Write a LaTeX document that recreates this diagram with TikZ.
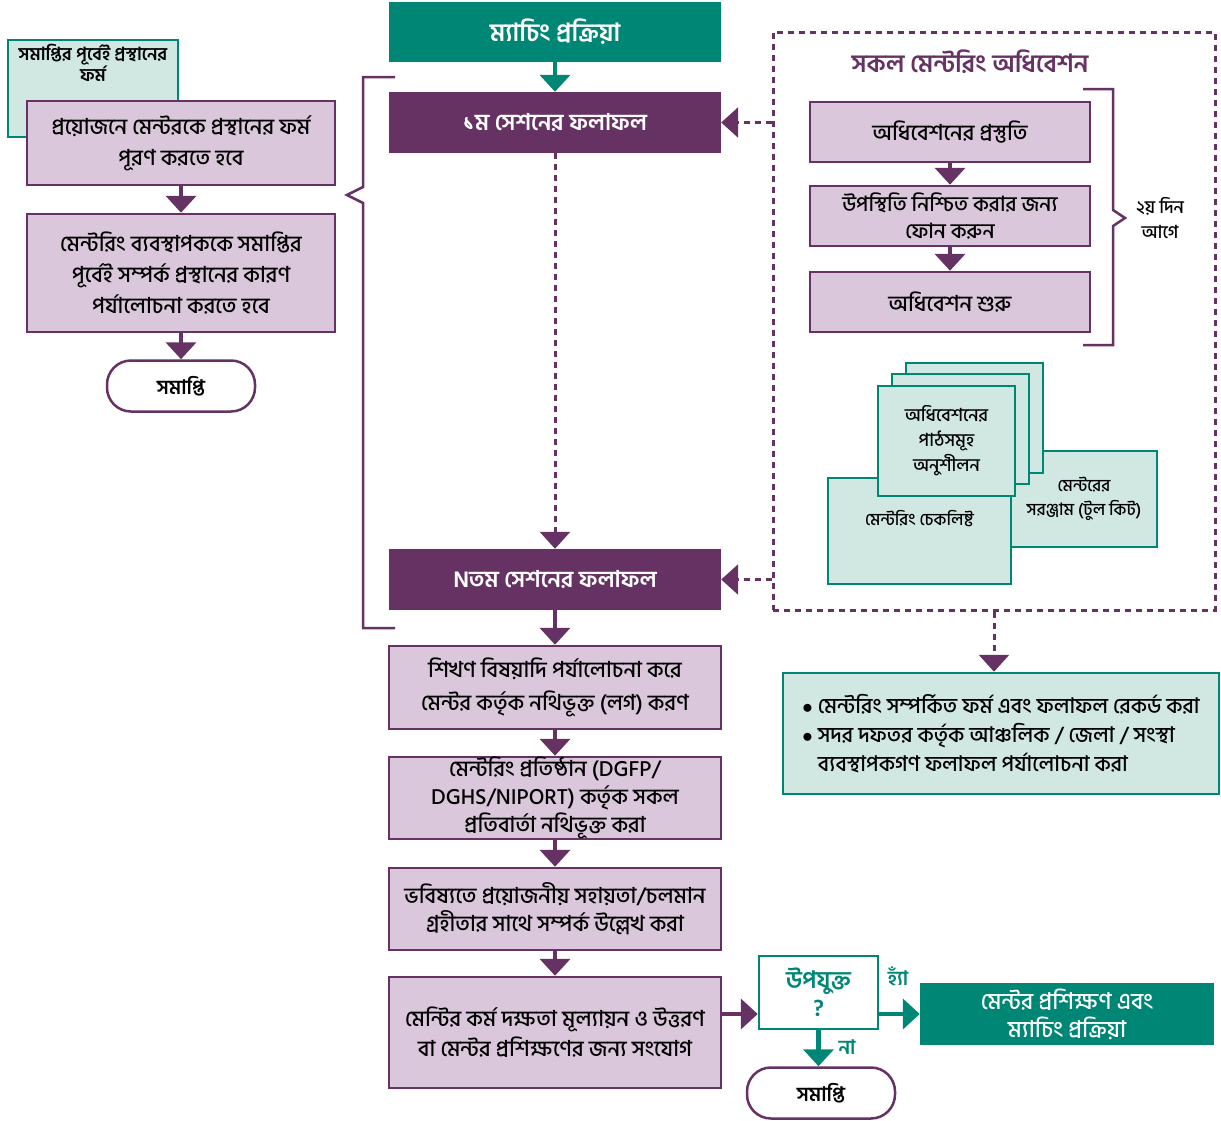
\documentclass[tikz,border=0pt]{standalone}
\usepackage{fontspec}
\newfontfamily\bn[Script=Bengali, UprightFont={* Medium}, BoldFont={* SemiBold}]{Hind Siliguri}
\usetikzlibrary{arrows.meta}
\definecolor{mteal}{RGB}{0,134,117}
\definecolor{lteal}{RGB}{208,231,226}
\definecolor{mpurple}{RGB}{102,50,99}
\definecolor{lpurple}{RGB}{219,199,219}

\begin{document}
\begin{tikzpicture}[x=1pt,y=-1pt,
	every node/.style={font=\bn\fontsize{22}{31}\selectfont, align=center, inner sep=0pt},
	lbox/.style={draw=mpurple, line width=2.5pt, fill=lpurple},
	dbox/.style={fill=mpurple, text=white, minimum width=332pt, minimum height=61pt, font=\bn\bfseries\fontsize{23}{28}\selectfont},
	tbox/.style={fill=mteal, text=white},
	gbox/.style={draw=mteal, line width=2.5pt, fill=lteal},
	endbox/.style={draw=mpurple, line width=2.5pt, fill=white, rounded corners=24pt, minimum width=148pt, minimum height=51pt, font=\bn\bfseries\fontsize{20}{24}\selectfont},
	arr/.style={mpurple, line width=4.5pt, -{Triangle[width=30pt,length=17pt]}},
	tarr/.style={arr, mteal},
	darr/.style={mpurple, line width=3pt, dash pattern=on 6pt off 5pt, -{Triangle[width=30pt,length=17pt]}},
	]
		\fill[white] (0,0) rectangle (1221,1120);
		\useasboundingbox (0,0) rectangle (1221,1120);
		\node[gbox, minimum width=170pt, minimum height=97pt] (exitform) at (93,88.5) {};
		\node[font=\bn\bfseries\fontsize{18}{21}\selectfont] (exitlbl) at ([yshift=-24pt]exitform.north) {সমাপ্তির পূর্বেই প্রস্থানের\\ফর্ম};
		\node[lbox, minimum width=308pt, minimum height=84pt] (needform) at (181,143) {প্রয়োজনে মেন্টরকে প্রস্থানের ফর্ম\\পূরণ করতে হবে};
		\node[lbox, minimum width=308pt, minimum height=118pt] (review) at (181,273) {মেন্টরিং ব্যবস্থাপককে সমাপ্তির\\পূর্বেই সম্পর্ক প্রস্থানের কারণ\\পর্যালোচনা করতে হবে};
		\node[endbox] (end1) at (181,386) {সমাপ্তি};
		\draw[arr] (needform) -- (review);
		\draw[arr] (review) -- (end1);
		\draw[mpurple, line width=2.5pt] (395,77) -- (363,77) -- (363,187) -- (347,195) -- (363,203) -- (363,628) -- (395,628);

		\node[tbox, minimum width=332pt, minimum height=60pt, font=\bn\bfseries\fontsize{25}{28}\selectfont] (match) at (555,32) {ম্যাচিং প্রক্রিয়া};
		\node[dbox] (s1) at (555,122.5) {১ম সেশনের ফলাফল};
		\node[dbox] (sN) at (555,579.5) {Nতম সেশনের ফলাফল};
		\node[lbox, minimum width=332pt, minimum height=83pt, font=\bn\fontsize{22}{33}\selectfont] (log) at (555,687.5) {শিখণ বিষয়াদি পর্যালোচনা করে\\মেন্টর কর্তৃক নথিভূক্ত (লগ) করণ};
		\node[lbox, minimum width=332pt, minimum height=82pt, font=\bn\fontsize{22}{28}\selectfont] (inst) at (555,798) {মেন্টরিং প্রতিষ্ঠান (DGFP/\\DGHS/NIPORT) কর্তৃক সকল\\প্রতিবার্তা নথিভূক্ত করা};
		\node[lbox, minimum width=332pt, minimum height=82pt, font=\bn\fontsize{22}{28}\selectfont] (future) at (555,909) {ভবিষ্যতে প্রয়োজনীয় সহায়তা/চলমান\\গ্রহীতার সাথে সম্পর্ক উল্লেখ করা};
		\node[lbox, minimum width=332pt, minimum height=111pt, font=\bn\fontsize{22}{30}\selectfont] (eval) at (555,1032.5) {মেন্টির কর্ম দক্ষতা মূল্যায়ন ও উত্তরণ\\বা মেন্টর প্রশিক্ষণের জন্য সংযোগ};
		\draw[tarr] (match) -- (s1);
		\draw[darr] (s1) -- (sN);
		\draw[arr] (sN) -- (log);
		\draw[arr] (log) -- (inst);
		\draw[arr] (inst) -- (future);
		\draw[arr] (future) -- (eval);

		\node[draw=mteal, line width=2.5pt, fill=white, text=mteal, minimum width=119pt, minimum height=73pt, font=\bn\bfseries\fontsize{24}{28}\selectfont] (fit) at (818.5,992.5) {উপযুক্ত\\?};
		\node[tbox, minimum width=294pt, minimum height=62pt, font=\bn\fontsize{23}{28}\selectfont] (train) at (1067,1014) {মেন্টর প্রশিক্ষণ এবং\\ম্যাচিং প্রক্রিয়া};
		\node[endbox] (end2) at (821,1093) {সমাপ্তি};
		\draw[arr] (eval.east |- train) -- (fit.west |- train);
		\draw[tarr] (fit.east |- train) -- (train);
		\draw[tarr] (fit.south) -- (fit.south |- end2.north);
		\node[text=mteal, font=\bn\bfseries\fontsize{20}{24}\selectfont] (yes) at (898,976) {হ্যাঁ};
		\node[text=mteal, font=\bn\bfseries\fontsize{20}{24}\selectfont] (no) at (847,1047) {না};

		\node[draw=mpurple, line width=3pt, dash pattern=on 6pt off 5pt, minimum width=442pt, minimum height=578pt] (allbox) at (994,321) {};
		\node[text=mpurple, font=\bn\bfseries\fontsize{25}{28}\selectfont] (alltitle) at (970,62) {সকল মেন্টরিং অধিবেশন};
		\node[lbox, minimum width=280pt, minimum height=60pt] (prep) at (950,132) {অধিবেশনের প্রস্তুতি};
		\node[lbox, minimum width=280pt, minimum height=60pt, font=\bn\fontsize{21}{27}\selectfont] (phone) at (950,216) {উপস্থিতি নিশ্চিত করার জন্য\\ফোন  করুন};
		\node[lbox, minimum width=280pt, minimum height=60pt] (start) at (950,302) {অধিবেশন শুরু};
		\draw[arr] (prep) -- (phone);
		\draw[arr] (phone) -- (start);
		\draw[mpurple, line width=2.5pt] (1083,89) -- (1113,89) -- (1113,210) -- (1125,218) -- (1113,226) -- (1113,345) -- (1083,345);
		\node[font=\bn\fontsize{18}{25}\selectfont] (before) at (1160,218) {২য় দিন\\আগে};

		\node[gbox, minimum width=146pt, minimum height=96pt, font=\bn\fontsize{17}{24}\selectfont] (toolkit) at (1084,499) {মেন্টরের\\সরঞ্জাম (টুল কিট)};
		\node[gbox, minimum width=183pt, minimum height=106pt] (check) at (919.5,531) {};
		\node[font=\bn\fontsize{17}{24}\selectfont] (checklbl) at ([yshift=12pt]check.center) {মেন্টরিং চেকলিষ্ট};
		\foreach \dx/\dy in {28/23,14/12}
			\node[gbox, minimum width=137pt, minimum height=110pt] at (946.5+\dx,441-\dy) {};
		\node[gbox, minimum width=137pt, minimum height=110pt, font=\bn\fontsize{18}{25}\selectfont] (lessons) at (946.5,441) {অধিবেশনের\\পাঠসমূহ\\অনুশীলন};

		\node[gbox, minimum width=436pt, minimum height=121pt, align=left, font=\bn\fontsize{21.5}{29}\selectfont] (notes) at (1001,733.5) {$\bullet$ মেন্টরিং সম্পর্কিত  ফর্ম এবং ফলাফল রেকর্ড করা\\$\bullet$ সদর দফতর  কর্তৃক  আঞ্চলিক / জেলা / সংস্থা\\\hphantom{$\bullet$ }ব্যবস্থাপকগণ ফলাফল পর্যালোচনা করা};
		\draw[darr] (allbox.west |- s1) -- (s1);
		\draw[darr] (allbox.west |- sN) -- (sN);
		\draw[darr] (allbox.south) -- (allbox.south |- notes.north);
\end{tikzpicture}
\end{document}
